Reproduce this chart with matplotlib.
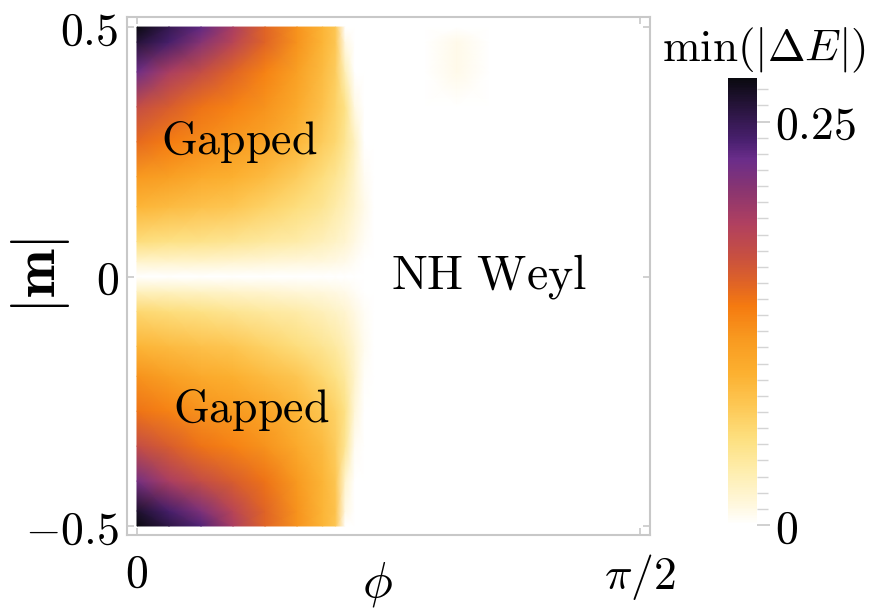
import numpy as np
import matplotlib
matplotlib.use('Agg')
from matplotlib import pyplot as plt
from matplotlib.colors import LinearSegmentedColormap

plt.rcParams['mathtext.fontset'] = 'cm'
plt.rcParams['font.family'] = ['DejaVu Serif']

# grid of the map: phi (columns) and |m| (rows), values of min(|dE|)
phi = [0, 0.1, 0.2, 0.3, 0.4, 0.5, 0.58, 0.62, 0.65, 0.68, 0.71, 0.74, 0.9, 1.0, 1.1, 1.3, 1.5708]
m = [-0.5, -0.47, -0.41, -0.34, -0.27, -0.2, -0.14, -0.07, -0.03, 0,
     0.03, 0.07, 0.14, 0.2, 0.27, 0.34, 0.41, 0.47, 0.5]
gap = [
    [0.28, 0.255, 0.235, 0.19, 0.15, 0.12, 0.09, 0.075, 0, 0, 0, 0, 0, 0, 0, 0, 0],
    [0.265, 0.24, 0.215, 0.18, 0.15, 0.12, 0.09, 0.078, 0.01, 0, 0, 0, 0, 0, 0, 0, 0],
    [0.22, 0.19, 0.17, 0.155, 0.14, 0.115, 0.09, 0.075, 0.02, 0, 0, 0, 0, 0, 0, 0, 0],
    [0.17, 0.155, 0.14, 0.13, 0.12, 0.10, 0.085, 0.07, 0.045, 0.005, 0, 0, 0, 0, 0, 0, 0],
    [0.14, 0.13, 0.12, 0.115, 0.105, 0.09, 0.075, 0.065, 0.05, 0.015, 0, 0, 0, 0, 0, 0, 0],
    [0.12, 0.11, 0.10, 0.095, 0.085, 0.075, 0.06, 0.05, 0.04, 0.02, 0.003, 0, 0, 0, 0, 0, 0],
    [0.09, 0.085, 0.08, 0.075, 0.065, 0.055, 0.045, 0.038, 0.03, 0.018, 0.006, 0, 0, 0, 0, 0, 0],
    [0.06, 0.055, 0.05, 0.045, 0.04, 0.035, 0.028, 0.022, 0.018, 0.01, 0.004, 0, 0, 0, 0, 0, 0],
    [0.025, 0.024, 0.022, 0.02, 0.018, 0.015, 0.012, 0.01, 0.008, 0.004, 0, 0, 0, 0, 0, 0, 0],
    [0, 0, 0, 0, 0, 0, 0, 0, 0, 0, 0, 0, 0, 0, 0, 0, 0],
    [0.02, 0.02, 0.02, 0.018, 0.016, 0.014, 0.012, 0.01, 0.008, 0.004, 0, 0, 0, 0, 0, 0, 0],
    [0.055, 0.05, 0.048, 0.045, 0.04, 0.035, 0.028, 0.022, 0.018, 0.01, 0.004, 0, 0, 0, 0, 0, 0],
    [0.09, 0.085, 0.08, 0.075, 0.065, 0.055, 0.045, 0.035, 0.028, 0.018, 0.008, 0, 0, 0, 0, 0, 0],
    [0.115, 0.11, 0.10, 0.095, 0.085, 0.07, 0.055, 0.045, 0.035, 0.02, 0.005, 0, 0, 0, 0, 0, 0],
    [0.145, 0.135, 0.125, 0.115, 0.105, 0.09, 0.07, 0.06, 0.045, 0.025, 0, 0, 0, 0, 0, 0, 0],
    [0.17, 0.155, 0.14, 0.13, 0.12, 0.10, 0.08, 0.065, 0.05, 0.01, 0, 0, 0, 0, 0, 0, 0],
    [0.225, 0.19, 0.17, 0.15, 0.13, 0.11, 0.085, 0.07, 0.03, 0, 0, 0, 0, 0.008, 0, 0, 0],
    [0.26, 0.24, 0.21, 0.18, 0.15, 0.12, 0.09, 0.075, 0.01, 0, 0, 0, 0, 0.008, 0, 0, 0],
    [0.28, 0.25, 0.23, 0.19, 0.15, 0.12, 0.09, 0.075, 0, 0, 0, 0, 0, 0, 0, 0, 0],
]
cbar_max = 0.277

# sunset-like colours, white at zero
cols = [(0.0, '#ffffff'), (0.04, '#fff8e0'), (0.115, '#feeeb0'), (0.19, '#fde080'),
        (0.265, '#fdc855'), (0.34, '#fcb030'), (0.415, '#f89a20'), (0.49, '#f57a10'),
        (0.54, '#e06425'), (0.6, '#c85040'), (0.675, '#b04060'), (0.75, '#8a3570'),
        (0.82, '#6a2d8a'), (0.86, '#4a2070'), (0.93, '#2a1540'), (1.0, '#0a0a10')]
cmap = LinearSegmentedColormap.from_list('sunset', cols)

fig = plt.figure(figsize=(8.74, 6.10), dpi=100)
ax = fig.add_axes([0.1453, 0.123, 0.5984, 0.849])
mesh = ax.pcolormesh(phi, m, np.array(gap), cmap=cmap, vmin=0, vmax=cbar_max, shading='gouraud')

ax.set_xlim(-0.0312, np.pi / 2 + 0.0312)
ax.set_ylim(-0.518, 0.52)
fs = 33
ax.set_xticks([0, np.pi / 2], [r'$0$', r'$\pi/2$'], fontsize=fs)
ax.set_yticks([-0.5, 0, 0.5], [r'$-0.5$', r'$0$', r'$0.5$'], fontsize=fs)
ax.tick_params(direction='in', length=5, width=1.2, color='#c8c8c8', top=True, right=True, pad=6)
ax.tick_params(axis='x', pad=12)
for s in ax.spines.values():
    s.set_color('#c8c8c8')
    s.set_linewidth(1.5)

ax.text(0.319, 0.269, r'$\mathrm{Gapped}$', fontsize=fs, ha='center', va='center')
ax.text(0.356, -0.267, r'$\mathrm{Gapped}$', fontsize=fs, ha='center', va='center')
ax.text(1.10, 0.0, r'$\mathrm{NH\ Weyl}$', fontsize=34.5, ha='center', va='center')

fig.text(377 / 874, 1 - 584 / 610, r'$\phi$', fontsize=36, ha='center', va='center')
fig.text(40 / 874, 1 - 276 / 610, r'$|\mathbf{m}|$', fontsize=42, ha='center', va='center', rotation=90)

cax = fig.add_axes([728 / 874, 1 - 525 / 610, 29 / 874, 447 / 610])
cb = fig.colorbar(mesh, cax=cax)
cb.outline.set_visible(False)
cb.set_ticks([0, 0.25], labels=[r'$0$', r'$0.25$'])
cb.ax.set_yticks(np.arange(0, 0.275, 0.01), minor=True)
cb.ax.tick_params(which='major', length=9, width=1.2, color='#c8c8c8', labelsize=fs, pad=4)
cb.ax.tick_params(which='minor', length=8, width=1.0, color='#d4d4d4')
fig.text(764 / 874, 1 - 50 / 610, r'$\min(|\Delta E|)$', fontsize=32.5, ha='center', va='center')

fig.savefig('out.png', dpi=100)
